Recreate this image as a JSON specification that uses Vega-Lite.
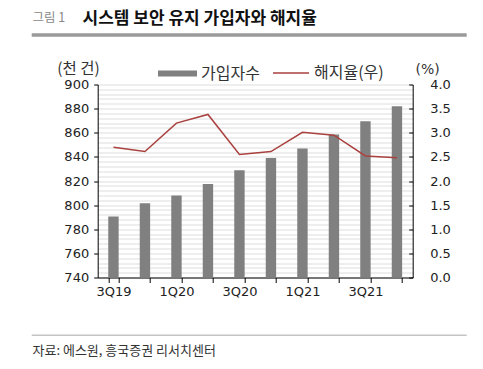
{
  "$schema": "https://vega.github.io/schema/vega-lite/v6.json",
  "width": 315,
  "height": 193,
  "autosize": {"type": "none"},
  "padding": {"left": 97.7, "top": 84.5, "right": 70.3, "bottom": 91.5},
  "background": "white",
  "config": {
    "view": {"stroke": null},
    "axis": {"labelFont": "DejaVu Sans", "labelFontSize": 13, "labelColor": "#222", "domainColor": "#000", "tickColor": "#000"},
    "legend": {"labelFont": "Noto Sans CJK KR", "labelFontSize": 16, "labelColor": "#333", "padding": 0, "labelOffset": 4}
  },
  "datasets": {
    "main": [
      {"quarter": "3Q19", "subs": 790.5, "churn": 2.70},
      {"quarter": "4Q19", "subs": 801.5, "churn": 2.61},
      {"quarter": "1Q20", "subs": 808.0, "churn": 3.20},
      {"quarter": "2Q20", "subs": 817.5, "churn": 3.38},
      {"quarter": "3Q20", "subs": 829.0, "churn": 2.55},
      {"quarter": "4Q20", "subs": 839.0, "churn": 2.61},
      {"quarter": "1Q21", "subs": 847.0, "churn": 3.01},
      {"quarter": "2Q21", "subs": 858.5, "churn": 2.95},
      {"quarter": "3Q21", "subs": 869.5, "churn": 2.52},
      {"quarter": "4Q21", "subs": 882.0, "churn": 2.48}
    ]
  },
  "layer": [
    {
      "data": {"name": "main"},
      "layer": [
        {
          "mark": {"type": "bar", "color": "#808080", "clip": true},
          "encoding": {
            "x": {
              "field": "quarter", "type": "nominal", "sort": null,
              "scale": {"paddingInner": 0.67, "paddingOuter": 0.335},
              "axis": {
                "labelAngle": 0, "tickBand": "extent", "tickSize": 5, "labelPadding": 3,
                "labelExpr": "test(/^[13]Q/, datum.label) ? datum.label : ''",
                "title": "자료: 에스원, 흥국증권 리서치센터",
                "titleFont": "Noto Sans CJK KR", "titleFontSize": 13, "titleFontWeight": "normal", "titleColor": "#333",
                "titleX": -65.7, "titleY": 77, "titleAlign": "left", "titleAnchor": "start", "titleBaseline": "alphabetic"
              }
            },
            "y": {
              "field": "subs", "type": "quantitative",
              "scale": {"domain": [740, 900], "zero": false, "nice": false},
              "axis": {
                "values": [740,744,748,752,756,760,764,768,772,776,780,784,788,792,796,800,804,808,812,816,820,824,828,832,836,840,844,848,852,856,860,864,868,872,876,880,884,888,892,896,900],
                "labelExpr": "datum.value % 20 === 0 ? datum.label : ''",
                "tickOpacity": {"condition": {"test": "datum.value % 20 === 0", "value": 1}, "value": 0},
                "tickSize": 4, "labelPadding": 5,
                "grid": true, "gridColor": "#e9e9e9", "gridWidth": 1.5,
                "title": "(천 건)", "titleAngle": 0, "titleX": -41, "titleY": -11.5, "titleAlign": "left", "titleBaseline": "alphabetic",
                "titleFont": "Noto Sans CJK KR", "titleFontSize": 15.5, "titleFontWeight": "normal", "titleColor": "#333"
              }
            },
            "fill": {
              "datum": "가입자수",
              "scale": {"range": ["#808080"]},
              "legend": {"title": null, "orient": "none", "legendX": 60.3, "legendY": -30.5, "symbolType": "M-1,-0.16H1V0.16H-1Z", "symbolSize": 1521, "symbolStrokeWidth": 0}
            }
          }
        },
        {
          "mark": {"type": "line", "strokeWidth": 1.5},
          "encoding": {
            "x": {"field": "quarter", "type": "nominal", "sort": null},
            "y": {
              "field": "churn", "type": "quantitative",
              "scale": {"domain": [0, 4], "nice": false},
              "axis": {
                "orient": "right", "values": [0, 0.5, 1, 1.5, 2, 2.5, 3, 3.5, 4], "format": ".1f",
                "grid": false, "tickSize": -4, "labelPadding": 21,
                "title": "(%)", "titleAngle": 0, "titleX": 2.3, "titleY": -11.5, "titleAlign": "left", "titleBaseline": "alphabetic",
                "titleFont": "DejaVu Sans", "titleFontSize": 14, "titleFontWeight": "normal", "titleColor": "#333"
              }
            },
            "stroke": {
              "datum": "해지율(우)",
              "scale": {"range": ["#a9413f"]},
              "legend": {"title": null, "orient": "none", "legendX": 174.3, "legendY": -30.5, "symbolType": "stroke", "symbolSize": 1296, "symbolStrokeWidth": 1.5}
            }
          }
        }
      ],
      "resolve": {"scale": {"y": "independent"}}
    },
    {
      "data": {"values": [{}]},
      "layer": [
        {
          "mark": {"type": "rule", "color": "#9a9a9a", "strokeWidth": 3.5},
          "encoding": {
            "x": {
              "datum": -0.2095, "type": "quantitative",
              "scale": {"domain": [0, 1], "nice": false, "zero": false},
              "axis": {
                "orient": "top", "domain": false, "ticks": false, "labels": false, "grid": false,
                "title": "그림 1", "titleX": -65.7, "titleY": -63.5, "titleAlign": "left", "titleBaseline": "alphabetic",
                "titleFont": "Noto Sans CJK KR", "titleFontSize": 12.5, "titleFontWeight": "normal", "titleColor": "#888"
              }
            },
            "x2": {"datum": 1.1714},
            "y": {
              "datum": 1.2565, "type": "quantitative",
              "scale": {"domain": [0, 1], "nice": false, "zero": false},
              "axis": {
                "orient": "left", "domain": false, "ticks": false, "labels": false, "grid": false,
                "title": "시스템 보안 유지 가입자와 해지율", "titleAngle": 0, "titleX": -15.7, "titleY": -61.5, "titleAlign": "left", "titleBaseline": "alphabetic",
                "titleFont": "Noto Sans CJK KR", "titleFontSize": 17, "titleFontWeight": "bold", "titleColor": "#111"
              }
            }
          }
        },
        {
          "mark": {"type": "rule", "color": "#c4c4c4", "strokeWidth": 1.5},
          "encoding": {
            "x": {"datum": -0.2095, "type": "quantitative"},
            "x2": {"datum": 1.1714},
            "y": {"datum": -0.2995, "type": "quantitative"}
          }
        }
      ]
    }
  ],
  "resolve": {"scale": {"x": "independent", "y": "independent"}}
}
